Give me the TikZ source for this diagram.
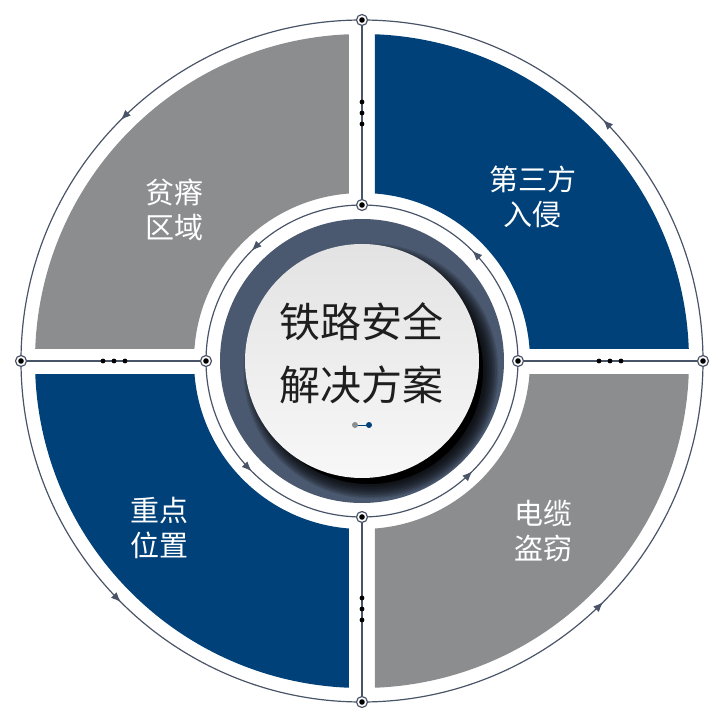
\documentclass[tikz,border=0pt]{standalone}
\usepackage{fontspec}
\setmainfont{Noto Sans CJK SC}
\usetikzlibrary{arrows.meta,decorations.markings}

\definecolor{railblue}{RGB}{0,65,122}
\definecolor{railgray}{RGB}{140,141,143}
\definecolor{ringdark}{RGB}{75,89,112}
\definecolor{linecol}{RGB}{74,84,104}
\definecolor{titlecol}{RGB}{30,30,30}

\tikzset{
  hub/.style={circle, draw=linecol, fill=white, line width=1.2pt, minimum size=11pt, inner sep=0pt},
  spoke/.style={draw=linecol, line width=2pt},
  ringline/.style={draw=linecol, line width=1.2pt},
  midarrow/.style={decoration={markings, mark=at position 0.5 with {\arrow{Latex[length=10pt,width=8pt]}}}, postaction={decorate}},
  quadtext/.style={text=white, align=center, font=\fontsize{29}{35}\selectfont},
  pin/.style={circle, inner sep=0pt, minimum size=6pt}
}

\begin{document}
\begin{tikzpicture}[x=1pt, y=1pt, line cap=round, line join=round]
    \useasboundingbox (-362,-365) rectangle (364,361);

    % Quadrant sectors
    \foreach \sx/\sy/\col in {1/1/railblue, -1/1/railgray, -1/-1/railblue, 1/-1/railgray}{
        \begin{scope}
            \clip (13*\sx,13*\sy) rectangle (340*\sx,340*\sy);
            \fill[\col, even odd rule] (0,0) circle (327) (0,0) circle (168);
        \end{scope}
    }

    % Outer and inner rings with arrows
    \foreach \a in {0,90,180,270}{
        \draw[ringline, midarrow] (\a:341) arc[start angle=\a, end angle=\a+90, radius=341];
        \draw[ringline, midarrow] (\a:156) arc[start angle=\a, end angle=\a+90, radius=156];
    }

    % Hubs on the rings
    \foreach \a/\n in {0/R, 90/T, 180/L, 270/B}{
        \node[hub] (o\n) at (\a:341) {};
        \node[hub] (i\n) at (\a:156) {};
    }

    % Spokes between hubs
    \foreach \n in {R,T,L,B}{
        \draw[spoke] (o\n) -- (i\n);
    }
    \foreach \n in {R,T,L,B}{
        \fill[black] (o\n) circle (2.8);
        \fill[black] (i\n) circle (2.8);
    }

    % Dots on the spokes
    \foreach \a in {0,90,180,270}
        \foreach \r in {237,248,259}{
            \fill[black] (\a:\r) circle (2.4);
        }

    % Central disc
    \fill[ringdark] (0,0) circle (142);
    \foreach \k in {0,...,9}{
        \fill[black, opacity=0.14] (9,-10) circle (113+\k*1.6);
    }
    \fill[black] (7,-9) circle (114);
    \shade[top color=black!11, bottom color=black!3] (0,0) circle (117);

    \node[text=titlecol, align=center, font=\fontsize{41}{63}\selectfont] (title) at (0,8) {铁路安全\\解决方案};
    \node[pin, fill=railgray] (d1) at (-7,-64) {};
    \node[pin, fill=railblue] (d2) at (7,-64) {};
    \draw[railblue, line width=1pt] (d1) -- (d2);

    % Quadrant labels
    \node[quadtext] (poor) at (-187,151) {贫瘠\\区域};
    \node[quadtext] (intrude) at (171,164) {第三方\\入侵};
    \node[quadtext] (cable) at (181,-170) {电缆\\盗窃};
    \node[quadtext] (key) at (-202,-167) {重点\\位置};

\end{tikzpicture}
\end{document}
